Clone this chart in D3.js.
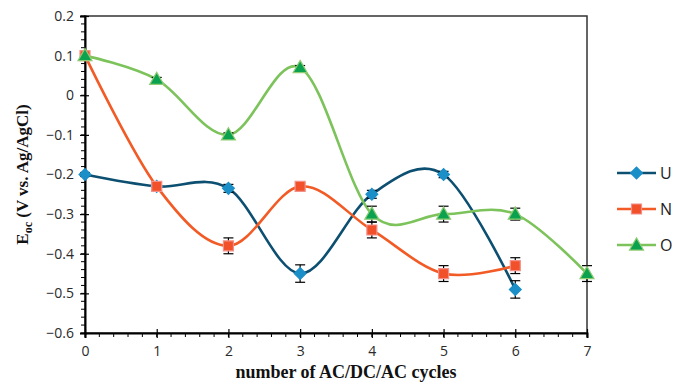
<!DOCTYPE html>
<html>
<head>
<meta charset="utf-8">
<script src="https://cdn.jsdelivr.net/npm/d3@7"></script>
<style>
  body { margin: 0; background: #fff; }
  svg { display: block; }
</style>
</head>
<body>
<figure id="chart" style="margin:0"></figure>
<script>
// cycles on the x axis
const cycles = [0, 1, 2, 3, 4, 5, 6, 7];
const yTicks = [0.2, 0.1, 0, -0.1, -0.2, -0.3, -0.4, -0.5, -0.6];

// series values (null = no point)
const uVals = [-0.2, -0.23, -0.235, -0.45, -0.25, -0.2, -0.49, null];
const nVals = [0.1, -0.23, -0.38, -0.23, -0.34, -0.45, -0.43, null];
const oVals = [0.1, 0.04, -0.1, 0.07, -0.3, -0.3, -0.3, -0.45];

// error bar half-widths
const uErr = [0.005, 0.01, 0.01, 0.022, 0.01, 0.008, 0.022, null];
const nErr = [0.005, 0.01, 0.02, 0.008, 0.02, 0.02, 0.02, null];
const oErr = [0.005, 0.005, 0.005, 0.005, 0.02, 0.02, 0.015, 0.02];

const seriesNames = ["U", "N", "O"];

const series = [
  { name: seriesNames[0], vals: uVals, err: uErr, line: "#0c4f71", fill: "#1b8fc8", stroke: "#1b8fc8", shape: d3.symbolSquare, rot: 45, size: 70, dy: 0 },
  { name: seriesNames[1], vals: nVals, err: nErr, line: "#f25a26", fill: "#f1502a", stroke: "#f39088", shape: d3.symbolSquare, rot: 0, size: 100, dy: 0 },
  { name: seriesNames[2], vals: oVals, err: oErr, line: "#7cc35b", fill: "#0aa24f", stroke: "#8fcb73", shape: d3.symbolTriangle, rot: 0, size: 85, dy: 1 }
];

const width = 675, height = 382;
const margin = { left: 85, right: 88, top: 16, bottom: 49 };
const plotW = width - margin.left - margin.right;
const plotH = height - margin.top - margin.bottom;

const svg = d3.select("figure#chart")
  .append("svg")
  .attr("width", width)
  .attr("height", height);

const g = svg.append("g")
  .attr("transform", "translate(" + margin.left + "," + margin.top + ")");

const x = d3.scaleLinear().domain([0, 7]).range([0, plotW]);
const y = d3.scaleLinear().domain([-0.6, 0.2]).range([plotH, 0]);

// frame (top and right)
g.append("rect")
  .attr("x", 0).attr("y", 0)
  .attr("width", plotW).attr("height", plotH)
  .attr("fill", "none")
  .attr("stroke", "#333")
  .attr("stroke-width", 1.5);

// minor ticks
const yMinor = d3.range(-0.6, 0.2001, 0.02);
g.append("g").selectAll("line")
  .data(yMinor)
  .enter()
  .append("line")
  .attr("x1", -4).attr("x2", 0)
  .attr("y1", d => y(d)).attr("y2", d => y(d))
  .attr("stroke", "#000").attr("stroke-width", 1);

const xMinor = d3.range(0, 7.001, 0.2);
g.append("g").selectAll("line")
  .data(xMinor)
  .enter()
  .append("line")
  .attr("x1", d => x(d)).attr("x2", d => x(d))
  .attr("y1", plotH).attr("y2", plotH + 4)
  .attr("stroke", "#000").attr("stroke-width", 1);

// y axis
const yAxis = g.append("g")
  .call(d3.axisLeft(y).tickValues(yTicks).tickSize(5).tickPadding(6)
    .tickFormat(d => d === 0 ? "0" : d3.format(".1f")(d)));
yAxis.select(".domain").attr("stroke", "#000").attr("stroke-width", 2);
yAxis.selectAll(".tick line").attr("x2", -5).attr("x1", 4).attr("stroke-width", 1.2);
yAxis.selectAll("text")
  .style("font-family", "'Open Sans', sans-serif")
  .style("font-size", "14px")
  .attr("fill", "#2a2a2a");

// x axis
const xAxis = g.append("g")
  .attr("transform", "translate(0," + plotH + ")")
  .call(d3.axisBottom(x).tickValues(cycles).tickSize(5).tickPadding(8).tickFormat(d3.format("d")));
xAxis.select(".domain").attr("stroke", "#000").attr("stroke-width", 2);
xAxis.selectAll(".tick line").attr("y1", -4).attr("stroke-width", 1.2);
xAxis.selectAll("text")
  .style("font-family", "'Open Sans', sans-serif")
  .style("font-size", "14px")
  .attr("fill", "#2a2a2a");

// lines
const line = d3.line()
  .defined(d => d[1] !== null)
  .x(d => x(d[0]))
  .y(d => y(d[1]))
  .curve(d3.curveCardinal.tension(0));

series.forEach(s => {
  const pts = cycles.map((c, i) => [c, s.vals[i]]).filter(d => d[1] !== null);
  g.append("path")
    .datum(pts)
    .attr("fill", "none")
    .attr("stroke", s.line)
    .attr("stroke-width", 2.6)
    .attr("d", line);
});

// error bars
series.forEach(s => {
  const eb = g.append("g");
  cycles.forEach((c, i) => {
    if (s.vals[i] === null) return;
    const e = s.err[i];
    const cx = x(c), y1 = y(s.vals[i] + e), y2 = y(s.vals[i] - e);
    eb.append("line").attr("x1", cx).attr("x2", cx).attr("y1", y1).attr("y2", y2)
      .attr("stroke", "#000").attr("stroke-width", 1.2);
    [y1, y2].forEach(yy => {
      eb.append("line").attr("x1", cx - 5).attr("x2", cx + 5).attr("y1", yy).attr("y2", yy)
        .attr("stroke", "#000").attr("stroke-width", 1.2);
    });
  });
});

// markers
series.forEach(s => {
  const sym = d3.symbol().type(s.shape).size(s.size);
  g.append("g").selectAll("path")
    .data(cycles.map((c, i) => [c, s.vals[i]]).filter(d => d[1] !== null))
    .enter()
    .append("path")
    .attr("d", sym)
    .attr("transform", d => "translate(" + x(d[0]) + "," + (y(d[1]) + s.dy) + ") rotate(" + s.rot + ")")
    .attr("fill", s.fill)
    .attr("stroke", s.stroke)
    .attr("stroke-width", 1.2);
});

// legend
const legend = svg.append("g").attr("transform", "translate(617,173)");
series.forEach((s, i) => {
  const row = legend.append("g").attr("transform", "translate(0," + (i * 36) + ")");
  row.append("line").attr("x1", 0).attr("x2", 39).attr("y1", 0).attr("y2", 0)
    .attr("stroke", s.line).attr("stroke-width", 2.6);
  row.append("path")
    .attr("d", d3.symbol().type(s.shape).size(s.size))
    .attr("transform", "translate(19.5," + s.dy + ") rotate(" + s.rot + ")")
    .attr("fill", s.fill).attr("stroke", s.stroke).attr("stroke-width", 1.2);
  row.append("text")
    .attr("x", 43).attr("y", 0).attr("dy", "0.36em")
    .style("font-family", "'Open Sans', sans-serif")
    .style("font-size", "16px")
    .attr("fill", "#222")
    .text(s.name);
});

// axis titles
svg.append("text")
  .attr("x", margin.left + plotW / 2 + 10)
  .attr("y", 378)
  .attr("text-anchor", "middle")
  .style("font-family", "'Liberation Serif', 'Times New Roman', serif")
  .style("font-weight", "bold")
  .style("font-size", "18px")
  .attr("fill", "#111")
  .text("number of AC/DC/AC cycles");

const yt = svg.append("text")
  .attr("transform", "translate(28," + (margin.top + plotH / 2) + ") rotate(-90)")
  .attr("text-anchor", "middle")
  .style("font-family", "'Liberation Serif', 'Times New Roman', serif")
  .style("font-weight", "bold")
  .style("font-size", "17px")
  .attr("fill", "#111");
yt.append("tspan").text("E");
yt.append("tspan").attr("dy", 4).style("font-size", "12px").text("oc");
yt.append("tspan").attr("dy", -4).text(" (V vs. Ag/AgCl)");
</script>
</body>
</html>
